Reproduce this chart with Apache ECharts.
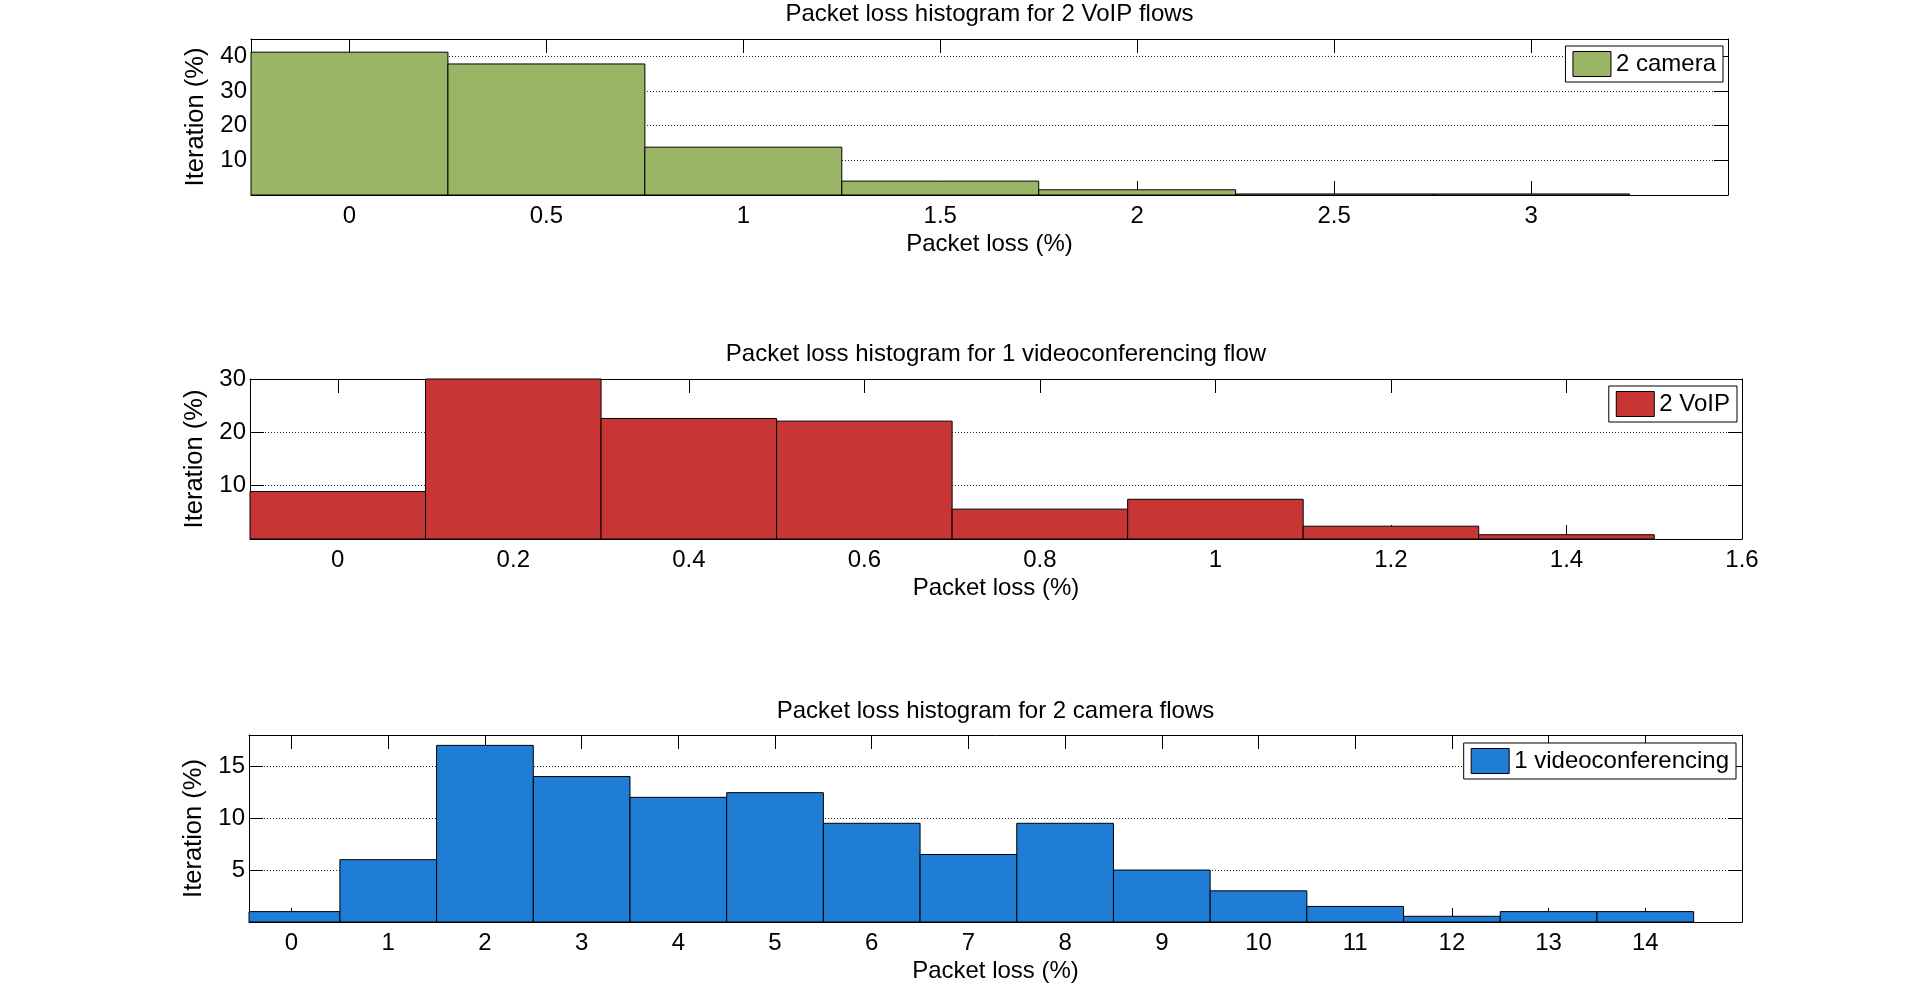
<!DOCTYPE html>
<html>
<head>
<meta charset="utf-8">
<title>Packet loss histograms</title>
<script src="https://cdn.jsdelivr.net/npm/echarts@6/dist/echarts.min.js"></script>
<style>
html, body { margin: 0; padding: 0; background: #fff; }
#main { width: 1920px; height: 984px; }
</style>
</head>
<body>
<div id="main"></div>
<script>
// 数据：直方图中心点与高度（%）
var titles = [
    'Packet loss histogram for 2 VoIP flows',
    'Packet loss histogram for 1 videoconferencing flow',
    'Packet loss histogram for 2 camera flows'
];
var legendNames = ['2 camera', '2 VoIP', '1 videoconferencing'];

var voipCenters = [0, 0.5, 1, 1.5, 2, 2.5, 3];
var voipValues = [41.2, 37.8, 13.8, 4.0, 1.5, 0.3, 0.3];
var voipTicks = [0, 0.5, 1, 1.5, 2, 2.5, 3];

var videoCenters = [0, 0.2, 0.4, 0.6, 0.8, 1.0, 1.2, 1.4];
var videoValues = [8.9, 30, 22.6, 22.1, 5.6, 7.45, 2.4, 0.8];
var videoTicks = [0, 0.2, 0.4, 0.6, 0.8, 1, 1.2, 1.4, 1.6];

var cameraCenters = [0, 1, 2, 3, 4, 5, 6, 7, 8, 9, 10, 11, 12, 13, 14];
var cameraValues = [1, 6, 17, 14, 12, 12.45, 9.5, 6.5, 9.5, 5, 3, 1.5, 0.55, 1, 1];
var cameraTicks = [0, 1, 2, 3, 4, 5, 6, 7, 8, 9, 10, 11, 12, 13, 14];

var binWidths = [0.5, 0.2, 1];

var myChart = echarts.init(document.getElementById('main'));

var fontFamily = '"Liberation Sans", Arial, Helvetica, sans-serif';
var colors = ['#9BB566', '#C83535', '#1F7DD6'];

// 三个子图的位置
var grids = [
    {left: 251, top: 39, width: 1477, height: 156},
    {left: 250, top: 379, width: 1492, height: 160},
    {left: 249, top: 735, width: 1493, height: 189}
];
var xRanges = [[-0.25, 3.5], [-0.1, 1.6], [-0.44, 15]];
var yRanges = [[0, 45, 10], [0, 30, 10], [0, 18, 5]];
var xTickLists = [voipTicks, videoTicks, cameraTicks];
var centerLists = [voipCenters, videoCenters, cameraCenters];
var valueLists = [voipValues, videoValues, cameraValues];
var legendPos = [{right: 197, top: 46}, {right: 183, top: 386}, {right: 184, top: 743}];
var titleY = [14.3, 354.3, 711];

function makeRenderItem(w) {
    return function (params, api) {
        var c = api.value(0);
        var v = api.value(1);
        var p0 = api.coord([c - w / 2, v]);
        var p1 = api.coord([c + w / 2, 0]);
        var rect = echarts.graphic.clipRectByRect({
            x: p0[0], y: p0[1], width: p1[0] - p0[0], height: p1[1] - p0[1]
        }, {
            x: params.coordSys.x, y: params.coordSys.y,
            width: params.coordSys.width, height: params.coordSys.height
        });
        return rect && {
            type: 'rect',
            shape: rect,
            style: {fill: api.visual('color'), stroke: '#000', lineWidth: 1}
        };
    };
}

var axisText = {color: '#000', fontSize: 24, fontFamily: fontFamily};
var yNameText = {color: '#000', fontSize: 25.5, fontFamily: fontFamily};
var xAxes = [], yAxes = [], series = [], legends = [], graphics = [];

for (var i = 0; i < 3; i++) {
    // 底部 x 轴
    xAxes.push({
        type: 'value', gridIndex: i, position: 'bottom',
        min: xRanges[i][0], max: xRanges[i][1],
        name: 'Packet loss (%)', nameLocation: 'middle', nameGap: 37,
        nameTextStyle: axisText,
        axisLine: {show: true, onZero: false, lineStyle: {color: '#000', width: 1}},
        axisTick: {show: true, inside: true, length: 14, customValues: xTickLists[i], lineStyle: {color: '#000'}},
        axisLabel: {show: true, margin: 9, customValues: xTickLists[i], color: '#000', fontSize: 24, fontFamily: fontFamily},
        splitLine: {show: false}
    });
    // 顶部 x 轴（只画刻度）
    xAxes.push({
        type: 'value', gridIndex: i, position: 'top',
        min: xRanges[i][0], max: xRanges[i][1],
        axisLine: {show: true, onZero: false, lineStyle: {color: '#000', width: 1}},
        axisTick: {show: true, inside: true, length: 14, customValues: xTickLists[i], lineStyle: {color: '#000'}},
        axisLabel: {show: false},
        splitLine: {show: false}
    });
    // 左侧 y 轴
    yAxes.push({
        type: 'value', gridIndex: i, position: 'left',
        min: yRanges[i][0], max: yRanges[i][1], interval: yRanges[i][2],
        name: 'Iteration (%)', nameLocation: 'middle', nameGap: 36,
        nameTextStyle: yNameText,
        axisLine: {show: true, onZero: false, lineStyle: {color: '#000', width: 1}},
        axisTick: {show: true, inside: true, length: 14, lineStyle: {color: '#000'}},
        axisLabel: {
            show: true, margin: 4, showMinLabel: false,
            showMaxLabel: yRanges[i][1] % yRanges[i][2] === 0,
            color: '#000', fontSize: 24, fontFamily: fontFamily
        },
        splitLine: {show: true, lineStyle: {color: '#222', width: 1, type: [1, 2]}}
    });
    // 右侧 y 轴（只画刻度）
    yAxes.push({
        type: 'value', gridIndex: i, position: 'right',
        min: yRanges[i][0], max: yRanges[i][1], interval: yRanges[i][2],
        axisLine: {show: true, onZero: false, lineStyle: {color: '#000', width: 1}},
        axisTick: {show: true, inside: true, length: 14, lineStyle: {color: '#000'}},
        axisLabel: {show: false},
        splitLine: {show: false}
    });

    var data = [];
    for (var j = 0; j < centerLists[i].length; j++) {
        data.push([centerLists[i][j], valueLists[i][j]]);
    }
    series.push({
        name: legendNames[i],
        type: 'custom',
        xAxisIndex: i * 2,
        yAxisIndex: i * 2,
        renderItem: makeRenderItem(binWidths[i]),
        itemStyle: {color: colors[i], borderColor: '#000', borderWidth: 1},
        encode: {x: 0, y: 1},
        data: data
    });

    legends.push({
        right: legendPos[i].right, top: legendPos[i].top,
        orient: 'horizontal',
        backgroundColor: '#fff',
        borderColor: '#000', borderWidth: 1, borderRadius: 0,
        padding: [5, 7, 5, 7],
        itemWidth: 38, itemHeight: 25,
        selectedMode: false,
        textStyle: {color: '#000', fontSize: 24, fontFamily: fontFamily, padding: [3, 0, 0, 0]},
        data: [{
            name: legendNames[i], icon: 'rect',
            itemStyle: {color: colors[i], borderColor: '#000', borderWidth: 1}
        }]
    });

    graphics.push({
        type: 'text',
        x: grids[i].left + grids[i].width / 2,
        y: titleY[i],
        style: {
            text: titles[i], fill: '#000',
            font: '24px ' + fontFamily,
            align: 'center', verticalAlign: 'middle'
        }
    });
}

var option = {
    backgroundColor: '#fff',
    animation: false,
    grid: grids,
    xAxis: xAxes,
    yAxis: yAxes,
    legend: legends,
    graphic: graphics,
    series: series
};

myChart.setOption(option);
</script>
</body>
</html>
